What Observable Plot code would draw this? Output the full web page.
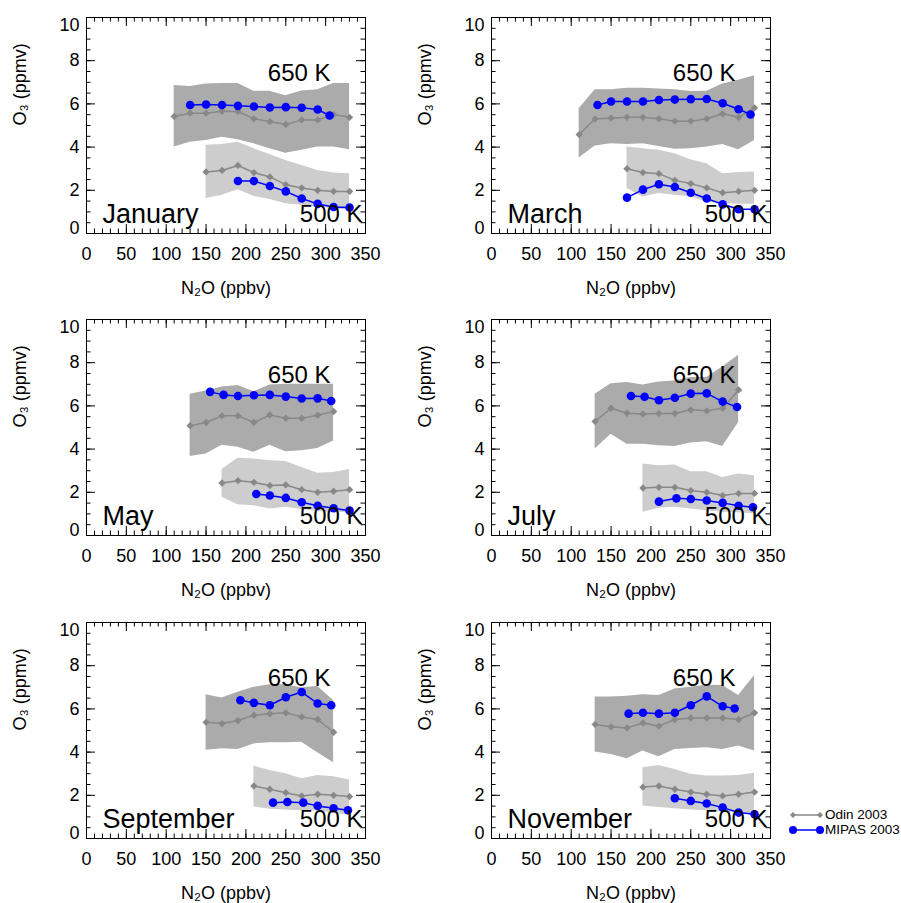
<!DOCTYPE html>
<html>
<head>
<meta charset="utf-8">
<script src="https://cdn.jsdelivr.net/npm/d3@7"></script>
<script src="https://cdn.jsdelivr.net/npm/@observablehq/plot@0.6"></script>
<style>
  body { margin: 0; background: #fff; font-family: "Liberation Sans", Arial, Helvetica, sans-serif; }
  #wrap { position: relative; width: 901px; height: 903px; overflow: hidden; background: #fff; }
  .panel { position: absolute; }
  .legend { position: absolute; left: 788px; top: 807px; font-size: 13.5px; color: #000; white-space: nowrap; }
  .legend .row { display: flex; align-items: center; height: 15px; }
  .legend svg { margin-right: 1px; }
</style>
</head>
<body>
<div id="wrap"></div>
<script>
// ---- tick labels / axis text ----
const xTicks = [0, 50, 100, 150, 200, 250, 300, 350];
const yTicks = [0, 2, 4, 6, 8, 10];
const xMinorStep = 10;
const yMinorStep = 0.5;
const xTitle = "N\u2082O (ppbv)";
const yTitle = "O\u2083 (ppmv)";
const levelHigh = "650 K";
const levelLow = "500 K";
const seriesNames = ["Odin 2003", "MIPAS 2003"];
const months = ["January", "March", "May", "July", "September", "November"];

// ---- Odin 2003: [N2O, O3 mean, O3 lower, O3 upper] ----
const janOdin650 = [[110,5.42,4.00,6.85],[130,5.57,4.23,6.80],[150,5.57,4.31,6.92],[170,5.66,4.46,6.95],[190,5.65,4.34,6.95],[210,5.31,4.15,6.58],[230,5.18,3.92,6.58],[250,5.05,3.72,6.38],[270,5.26,3.85,6.60],[290,5.26,4.00,6.65],[310,5.51,4.00,6.95],[330,5.38,3.88,6.95]];
const janOdin500 = [[150,2.85,1.62,4.08],[170,2.92,1.77,4.12],[190,3.15,2.03,4.23],[210,2.82,1.72,3.92],[230,2.62,1.57,3.66],[250,2.26,1.38,3.38],[270,2.11,1.31,3.15],[290,2.00,1.23,2.92],[310,1.95,1.15,2.80],[330,1.95,1.08,2.77]];
const marOdin650 = [[110,4.58,3.50,5.77],[130,5.31,4.05,6.65],[150,5.34,4.15,6.65],[170,5.38,4.12,6.72],[190,5.38,4.15,6.72],[210,5.31,4.03,6.69],[230,5.20,3.90,6.65],[250,5.20,3.92,6.57],[270,5.31,4.00,6.58],[290,5.54,4.12,6.92],[310,5.38,3.88,7.10],[330,5.82,4.31,7.30]];
const marOdin500 = [[170,3.00,2.08,4.00],[190,2.82,1.69,3.92],[210,2.77,1.85,3.85],[230,2.46,1.77,3.69],[250,2.31,1.69,3.42],[270,2.11,1.46,3.23],[290,1.89,1.38,2.77],[310,1.95,1.35,2.82],[330,2.00,1.35,2.85]];
const mayOdin650 = [[130,5.08,3.66,6.54],[150,5.23,3.77,6.69],[170,5.54,4.18,6.88],[190,5.54,4.08,6.95],[210,5.23,3.85,6.65],[230,5.58,4.18,6.97],[250,5.43,3.88,7.00],[270,5.43,3.92,7.00],[290,5.57,4.03,7.00],[310,5.74,4.38,7.00]];
const mayOdin500 = [[170,2.43,1.77,3.05],[190,2.54,1.42,3.58],[210,2.46,1.38,3.54],[230,2.31,1.23,3.46],[250,2.34,1.31,3.43],[270,2.12,1.20,3.15],[290,2.00,1.11,2.88],[310,2.05,1.05,2.92],[330,2.12,1.08,3.05]];
const julOdin650 = [[130,5.28,4.00,6.54],[150,5.89,4.69,7.03],[170,5.66,4.23,7.08],[190,5.62,4.23,6.97],[210,5.65,4.15,7.11],[230,5.65,4.12,7.15],[250,5.82,4.28,7.31],[270,5.77,4.34,7.31],[290,5.89,4.12,7.80],[310,6.74,5.23,8.34]];
const julOdin500 = [[190,2.20,1.08,3.31],[210,2.23,1.26,3.23],[230,2.23,1.31,3.26],[250,2.08,1.23,2.95],[270,2.00,1.15,2.95],[290,1.85,1.08,2.69],[310,1.95,1.05,2.85],[330,1.95,1.00,2.77]];
const sepOdin650 = [[150,5.38,4.08,6.66],[170,5.32,4.15,6.51],[190,5.46,4.12,6.77],[210,5.71,4.38,7.00],[230,5.77,4.43,7.12],[250,5.82,4.43,7.12],[270,5.63,4.46,6.97],[290,5.51,3.97,7.05],[310,4.92,3.51,6.38]];
const sepOdin500 = [[210,2.43,1.46,3.35],[230,2.28,1.35,3.15],[250,2.12,1.32,3.00],[270,1.97,1.28,2.77],[290,2.05,1.28,2.92],[310,2.00,1.17,2.86],[330,1.94,1.08,2.71]];
const novOdin650 = [[130,5.28,4.00,6.55],[150,5.17,3.89,6.55],[170,5.12,3.69,6.58],[190,5.35,4.05,6.66],[210,5.20,3.78,6.62],[230,5.51,4.12,6.92],[250,5.58,4.17,7.00],[270,5.58,4.20,7.09],[290,5.58,4.12,7.08],[310,5.51,4.28,6.62],[330,5.82,4.05,7.55]];
const novOdin500 = [[190,2.38,1.51,3.28],[210,2.43,1.43,3.38],[230,2.28,1.38,3.20],[250,2.15,1.32,2.97],[270,2.05,1.28,2.89],[290,1.97,1.23,2.89],[310,2.05,1.20,2.92],[330,2.15,1.12,3.02]];

// ---- MIPAS 2003: [N2O, O3] ----
const janMipas650 = [[130,5.95],[150,5.97],[170,5.95],[190,5.91],[210,5.88],[230,5.83],[250,5.85],[270,5.82],[290,5.74],[305,5.46]];
const janMipas500 = [[190,2.43],[210,2.43],[230,2.20],[250,1.95],[270,1.62],[290,1.37],[310,1.23],[330,1.20]];
const marMipas650 = [[133,5.95],[150,6.11],[170,6.11],[190,6.11],[210,6.18],[230,6.20],[250,6.22],[270,6.23],[290,6.03],[310,5.75],[325,5.51]];
const marMipas500 = [[170,1.66],[190,2.03],[210,2.28],[230,2.15],[250,1.89],[270,1.62],[290,1.35],[310,1.12],[330,1.12]];
const mayMipas650 = [[155,6.65],[172,6.51],[190,6.46],[210,6.49],[230,6.51],[250,6.43],[270,6.34],[290,6.35],[307,6.23]];
const mayMipas500 = [[213,1.92],[230,1.85],[250,1.74],[270,1.54],[290,1.38],[310,1.26],[330,1.15]];
const julMipas650 = [[175,6.46],[192,6.42],[210,6.26],[230,6.38],[250,6.57],[270,6.58],[290,6.20],[308,5.95]];
const julMipas500 = [[210,1.57],[232,1.72],[250,1.69],[270,1.62],[290,1.51],[310,1.38],[328,1.31]];
const sepMipas650 = [[193,6.40],[210,6.28],[230,6.17],[250,6.54],[270,6.78],[290,6.25],[307,6.17]];
const sepMipas500 = [[234,1.66],[252,1.69],[272,1.66],[290,1.51],[310,1.40],[328,1.31]];
const novMipas650 = [[172,5.78],[190,5.82],[210,5.78],[230,5.82],[250,6.17],[270,6.58],[290,6.12],[305,6.02]];
const novMipas500 = [[230,1.86],[250,1.74],[270,1.62],[290,1.43],[310,1.20],[330,1.12]];

const panels = [
  {name: months[0], o650: janOdin650, o500: janOdin500, m650: janMipas650, m500: janMipas500},
  {name: months[1], o650: marOdin650, o500: marOdin500, m650: marMipas650, m500: marMipas500},
  {name: months[2], o650: mayOdin650, o500: mayOdin500, m650: mayMipas650, m500: mayMipas500},
  {name: months[3], o650: julOdin650, o500: julOdin500, m650: julMipas650, m500: julMipas500},
  {name: months[4], o650: sepOdin650, o500: sepOdin500, m650: sepMipas650, m500: sepMipas500},
  {name: months[5], o650: novOdin650, o500: novOdin500, m650: novMipas650, m500: novMipas500}
];

// ---- styling ----
const W = 440, H = 300, ML = 86, MR = 75, MT = 17, MB = 67;
const frameH = H - MT - MB;
const frameW = W - ML - MR;
const colOffsets = [0, 405];
const rowOffsets = [0, 302, 605];
const darkBand = "#ababab", lightBand = "#cdcdcd", odinColor = "#888888", mipasColor = "#0000ff";
const majorLen = 9, minorLen = 4.5;

const xMinor = d3.range(xTicks[0], xTicks[xTicks.length - 1] + 0.001, xMinorStep);
const yMinor = d3.range(yTicks[0], yTicks[yTicks.length - 1] + 0.001, yMinorStep);
const yLo = yTicks[0], yHi = yTicks[yTicks.length - 1];
const yMid = yTicks.filter(t => t !== yLo && t !== yHi);

const X = d => d[0], Y = d => d[1], LO = d => d[2], HI = d => d[3];

function tickMarks() {
  return [
    Plot.tickX(xMinor, {x: d => d, insetTop: frameH - minorLen, stroke: "black"}),
    Plot.tickX(xMinor, {x: d => d, insetBottom: frameH - minorLen, stroke: "black"}),
    Plot.tickX(xTicks, {x: d => d, insetTop: frameH - majorLen, stroke: "black"}),
    Plot.tickX(xTicks, {x: d => d, insetBottom: frameH - majorLen, stroke: "black"}),
    Plot.tickY(yMinor, {y: d => d, insetRight: frameW - minorLen, stroke: "black"}),
    Plot.tickY(yMinor, {y: d => d, insetLeft: frameW - minorLen, stroke: "black"}),
    Plot.tickY(yTicks, {y: d => d, insetRight: frameW - majorLen, stroke: "black"}),
    Plot.tickY(yTicks, {y: d => d, insetLeft: frameW - majorLen, stroke: "black"})
  ];
}

function panel(p) {
  return Plot.plot({
    width: W, height: H,
    marginLeft: ML, marginRight: MR, marginTop: MT, marginBottom: MB,
    x: {domain: [xTicks[0], xTicks[xTicks.length - 1]], axis: null},
    y: {domain: [yLo, yHi], axis: null},
    style: {fontFamily: "'Liberation Sans', Arial, Helvetica, sans-serif", fontSize: "18px", color: "black", background: "transparent", overflow: "visible"},
    marks: [
      Plot.areaY(p.o650, {x: X, y1: LO, y2: HI, fill: darkBand}),
      Plot.areaY(p.o500, {x: X, y1: LO, y2: HI, fill: lightBand}),
      Plot.line(p.o650, {x: X, y: Y, stroke: odinColor, strokeWidth: 1.5}),
      Plot.dot(p.o650, {x: X, y: Y, symbol: "diamond2", r: 3.3, fill: odinColor}),
      Plot.line(p.o500, {x: X, y: Y, stroke: odinColor, strokeWidth: 1.5}),
      Plot.dot(p.o500, {x: X, y: Y, symbol: "diamond2", r: 3.3, fill: odinColor}),
      Plot.line(p.m650, {x: X, y: Y, stroke: mipasColor, strokeWidth: 1.5}),
      Plot.dot(p.m650, {x: X, y: Y, r: 4.3, fill: mipasColor}),
      Plot.line(p.m500, {x: X, y: Y, stroke: mipasColor, strokeWidth: 1.5}),
      Plot.dot(p.m500, {x: X, y: Y, r: 4.3, fill: mipasColor}),
      ...tickMarks(),
      Plot.frame({stroke: "black", strokeWidth: 1}),
      Plot.axisX({ticks: xTicks, tickSize: 0, tickPadding: 14, fontSize: 18, label: null}),
      Plot.axisY({ticks: yMid, tickSize: 0, tickPadding: 7, fontSize: 18, label: null}),
      Plot.axisY({ticks: [yLo], tickSize: 0, tickPadding: 7, fontSize: 18, label: null, dy: -5}),
      Plot.axisY({ticks: [yHi], tickSize: 0, tickPadding: 7, fontSize: 18, label: null, dy: 8}),
      Plot.text([xTitle], {frameAnchor: "bottom", dy: 55, lineAnchor: "middle", fontSize: 18, fill: "black"}),
      Plot.text([yTitle], {frameAnchor: "left", dx: -66, rotate: -90, lineAnchor: "middle", fontSize: 18, fill: "black"}),
      Plot.text([levelHigh], {frameAnchor: "top-right", dx: -35, dy: 56, textAnchor: "end", lineAnchor: "middle", fontSize: 24, fill: "black"}),
      Plot.text([levelLow], {frameAnchor: "bottom-right", dx: -3, dy: -19, textAnchor: "end", lineAnchor: "middle", fontSize: 24, fill: "black"}),
      Plot.text([p.name], {frameAnchor: "bottom-left", dx: 16, dy: -19, textAnchor: "start", lineAnchor: "middle", fontSize: 27, fill: "black"})
    ]
  });
}

const wrap = document.getElementById("wrap");
panels.forEach((p, i) => {
  const div = document.createElement("div");
  div.className = "panel";
  div.style.left = colOffsets[i % 2] + "px";
  div.style.top = rowOffsets[Math.floor(i / 2)] + "px";
  div.appendChild(panel(p));
  wrap.appendChild(div);
});

// ---- legend ----
const legend = document.createElement("div");
legend.className = "legend";
legend.innerHTML = `
  <div class="row"><svg width="36" height="12"><line x1="5" y1="6" x2="32" y2="6" stroke="${odinColor}" stroke-width="1.5"/>
    <path d="M5,3L8,6L5,9L2,6Z" fill="${odinColor}"/><path d="M32,3L35,6L32,9L29,6Z" fill="${odinColor}"/></svg><span>${seriesNames[0]}</span></div>
  <div class="row"><svg width="36" height="12"><line x1="5" y1="6" x2="32" y2="6" stroke="${mipasColor}" stroke-width="1.5"/>
    <circle cx="5" cy="6" r="4" fill="${mipasColor}"/><circle cx="32" cy="6" r="4" fill="${mipasColor}"/></svg><span>${seriesNames[1]}</span></div>`;
wrap.appendChild(legend);
</script>
</body>
</html>
